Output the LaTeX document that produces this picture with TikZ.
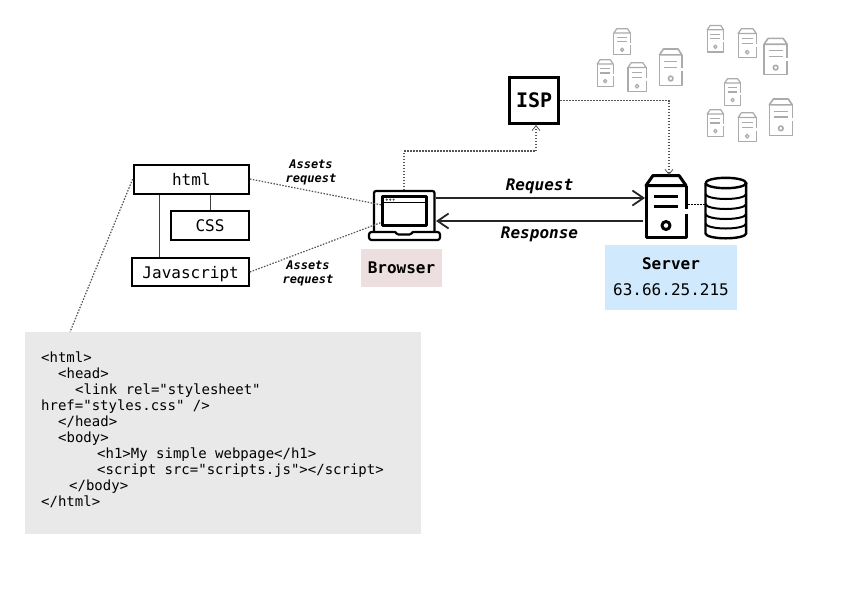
\documentclass[tikz,border=0pt]{standalone}
\usepackage{fontspec}
\setmainfont{DejaVu Sans Mono}
\setmonofont{DejaVu Sans Mono}
\usetikzlibrary{arrows.meta}
\definecolor{greyicon}{HTML}{ABABAB}
\definecolor{dotgrey}{HTML}{555555}
\definecolor{codebg}{HTML}{E9E9E9}
\definecolor{browserbg}{HTML}{EDDFE0}
\definecolor{serverbg}{HTML}{D1E9FD}
\newcommand{\srvicon}[6]{%
  \begin{scope}[shift={(#1,#2)},xscale=#3/40,yscale=#4/62,draw=#5,line width=#6pt,line join=round]
    \draw (0,10) -- (7,0) -- (33,0) -- (40,10) -- cycle;
    \draw (40,33) -- (40,10) (40,38) -- (40,62) -- (0,62) -- (0,10);
    \draw (8,21) -- (32,21) (8,31) -- (32,31);
    \draw (20,50) circle [radius=4];
  \end{scope}}
\tikzset{
  fontreg/.style={font=\fontsize{16}{18}\selectfont},
  boxnode/.style={draw=black,line width=2pt,fill=white,inner sep=0pt,fontreg,text height=12pt,text depth=0pt},
  tag/.style={inner sep=0pt,align=center},
  asset/.style={tag,font=\fontsize{12}{14}\selectfont\bfseries\itshape},
  arrowlabel/.style={tag,font=\fontsize{16}{18}\selectfont\bfseries\itshape},
  dotline/.style={draw=dotgrey,line width=1.2pt,dash pattern=on 1.5pt off 1.5pt},
  link/.style={draw=black!75,line width=1pt},
  mainarrow/.style={draw=black!85,line width=1.8pt,-{Straight Barb[length=11pt,width=15pt,line width=1.8pt]}},
  smallarrow/.style={dotline,-{Straight Barb[length=5pt,width=8pt,line width=0.8pt]}}
}
\begin{document}
\begin{tikzpicture}[x=1pt,y=-1pt]
\useasboundingbox (0,0) rectangle (842,598);
\fill[white] (0,0) rectangle (842,598);

% backgrounds
\fill[browserbg] (361,249) rectangle (442,286.5);
\fill[serverbg] (605,245) rectangle (737,310);
\node[fill=codebg,inner sep=0pt,minimum width=396pt,minimum height=202pt] (code) at (223,433) {};
\node[anchor=north west,inner sep=0pt,align=left,font=\ttfamily\fontsize{14}{16}\selectfont] (codetext) at (41,351.5) {%
<html>\\
\hspace*{17pt}<head>\\
\hspace*{34pt}<link rel="stylesheet"\\
href="styles.css" />\\
\hspace*{17pt}</head>\\
\hspace*{17pt}<body>\\
\hspace*{56pt}<h1>My simple webpage</h1>\\
\hspace*{56pt}<script src="scripts.js"></script>\\
\hspace*{28pt}</body>\\
</html>};

% grey servers
\srvicon{613.8}{28.8}{16.6}{26}{greyicon}{1.2}
\srvicon{597.2}{59.8}{16}{26.4}{greyicon}{1.2}
\srvicon{627.9}{62.8}{18.2}{29}{greyicon}{1.2}
\srvicon{659.5}{49}{22.4}{36.6}{greyicon}{1.6}
\srvicon{707.2}{25.5}{16.4}{26.4}{greyicon}{1.2}
\srvicon{738.2}{28.8}{18}{29}{greyicon}{1.2}
\srvicon{764}{38.4}{23.2}{36.2}{greyicon}{1.6}
\srvicon{724.6}{78.8}{16}{26.4}{greyicon}{1.2}
\srvicon{707.2}{109.8}{16.4}{26.4}{greyicon}{1.2}
\srvicon{738.2}{112.8}{18}{29}{greyicon}{1.2}
\srvicon{769.3}{99}{23}{36.4}{greyicon}{1.6}

% html boxes
\node[boxnode,minimum width=115.2pt,minimum height=29pt] (html) at (191.3,179) {html};
\node[boxnode,minimum width=77.8pt,minimum height=29pt] (css) at (210,225.85) {CSS};
\node[boxnode,minimum width=116.5pt,minimum height=28.6pt] (js) at (190.65,272) {Javascript};
\draw[link] (html.south -| 159,0) -- (js.north -| 159,0);
\draw[link] (html.south -| css.north) -- (css.north);

\node[asset] (asset1) at (311,172) {Assets\\request};
\node[asset] (asset2) at (308,273) {Assets\\request};

% ISP
\node[draw=black,line width=3pt,fill=white,inner sep=0pt,minimum width=48.7pt,minimum height=46pt,font=\fontsize{20}{22}\selectfont\bfseries] (isp) at (534.2,100.5) {ISP};

% laptop
\node[inner sep=0pt,minimum width=72pt,minimum height=50pt] (browser) at (404,215) {};
\begin{scope}[draw=black,line join=round]
  \draw[line width=2.2pt,rounded corners=2pt] (374,231) -- (374,191) -- (434.5,191) -- (434.5,231);
  \draw[line width=2.2pt] (382.5,196.5) rectangle (426.5,225.5);
  \draw[line width=1.6pt] (382.5,202.5) -- (426.5,202.5);
  \draw[line width=2.2pt,rounded corners=2.5pt] (395,232) -- (369,232) -- (369,240) -- (440,240) -- (440,232) -- (413,232);
  \draw[line width=2.2pt,rounded corners=1.5pt] (395,231.5) -- (397,234.5) -- (411,234.5) -- (413,231.5);
  \fill[black!70] (386.8,199.6) circle[radius=1.2] (390.2,199.6) circle[radius=1.2] (393.6,199.6) circle[radius=1.2];
\end{scope}
\node[tag,font=\fontsize{16}{18}\selectfont\bfseries] (browserlabel) at (401.5,267.5) {Browser};

% main server
\node[inner sep=0pt,minimum width=40pt,minimum height=62pt] (server) at (666,206.5) {};
\srvicon{646}{175.5}{40}{62}{black}{3}
\node[tag,font=\fontsize{16}{18}\selectfont\bfseries] (serverlabel) at (671,263.5) {Server};
\node[tag,fontreg] (serverip) at (671,289.5) {63.66.25.215};

% database
\node[inner sep=0pt,minimum width=42pt,minimum height=62pt] (db) at (725.8,208) {};
\begin{scope}[draw=black,line width=2.4pt]
  \draw (705.5,183) arc[x radius=20.3,y radius=5.2,start angle=180,end angle=-180];
  \draw (705.5,183) -- (705.5,233.5) arc[x radius=20.3,y radius=4.8,start angle=180,end angle=0] -- (746.1,183);
  \foreach \yy in {194,204,214,223.5}
    \draw[line width=2pt] (705.5,\yy) arc[x radius=20.3,y radius=5,start angle=180,end angle=0];
\end{scope}

% connectors
\coordinate (reqstart) at (436,198);
\coordinate (reqend) at (645,198);
\coordinate (respstart) at (643,221);
\coordinate (respend) at (436,221);
\draw[mainarrow] (reqstart) -- (reqend);
\draw[mainarrow] (respstart) -- (respend);
\node[arrowlabel] (reqlabel) at (539.5,186) {Request};
\node[arrowlabel] (resplabel) at (539.5,234.5) {Response};

\coordinate (winA) at (382,205);
\coordinate (winB) at (381,222.5);
\coordinate (lapTop) at (404,190);
\coordinate (codeTop) at (70,332);
\draw[dotline] (html.east) -- (winA);
\draw[dotline] (js.east) -- (winB);
\draw[dotline] (html.west) -- (codeTop);
\draw[smallarrow] (lapTop) -- (404,151) -- (536,151) -- (isp.south -| 536,0);
\draw[smallarrow] (isp.east) -- (669,100.5) -- (669,175);
\draw[draw=black,line width=0.8pt,dash pattern=on 1.5pt off 1.5pt] (688,204) -- (db.west |- 0,204);
\end{tikzpicture}
\end{document}
